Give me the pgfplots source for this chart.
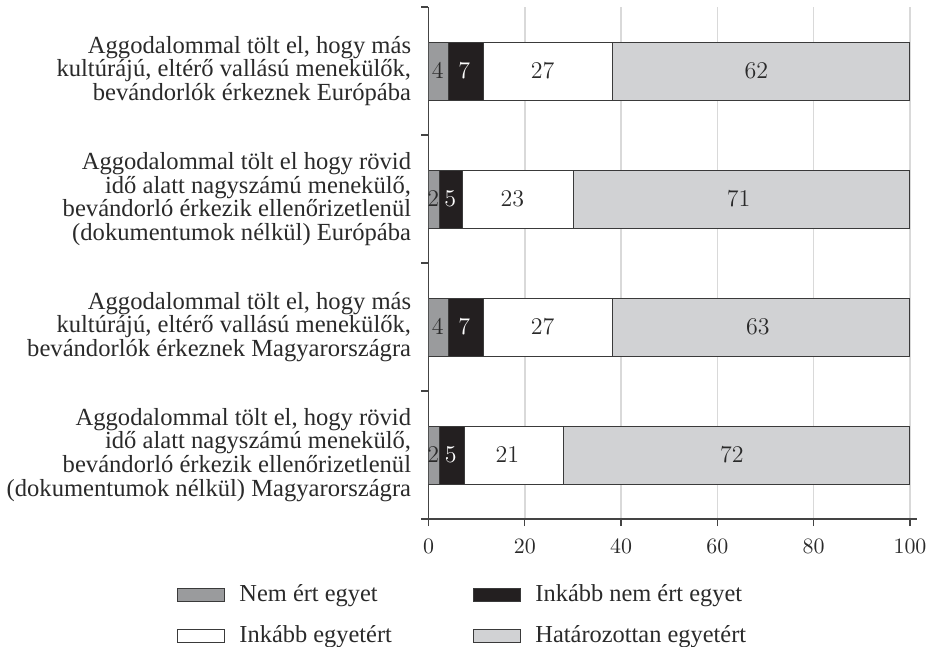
\documentclass[border=0pt]{standalone}
\usepackage[no-math]{fontspec}
\setmainfont{Liberation Serif}
\usepackage{pgfplots}
\pgfplotsset{compat=1.18}

\definecolor{nemert}{HTML}{9A9B9D}
\definecolor{inkabbnem}{HTML}{231F20}
\definecolor{hatarozottan}{HTML}{D1D2D4}
\definecolor{barline}{HTML}{3A3A3A}
\definecolor{axisline}{HTML}{444444}
\definecolor{gridc}{HTML}{D9D9D9}
\definecolor{numdark}{HTML}{2A2A2A}

% both axes share the same box: 1 px of the reference = 0.5pt
\pgfplotsset{
  common/.style={
    scale only axis, width=240.75pt, height=256pt,
    at={(0,0)}, anchor=south west,
    xmin=0, xmax=100, ymin=-0.5, ymax=3.5, y dir=reverse,
  },
}

\begin{document}
\begin{tikzpicture}
\useasboundingbox (-214.25pt,-64pt) rectangle (252.75pt,259.5pt);

\begin{axis}[
  common,
  xbar stacked, bar width=29pt,
  axis x line*=bottom, axis y line*=left,
  axis line style={-, draw=axisline, line width=0.7pt},
  x axis line style={shorten >=-3.5pt},
  tick align=outside, major tick length=3.5pt,
  tick style={draw=axisline, line width=0.7pt},
  xtick={0,20,...,100}, xtick pos=bottom,
  xticklabel style={font=\fontsize{11}{13}\selectfont, text=numdark, yshift=-3pt},
  ytick={-0.5,0.5,1.5,2.5,3.5}, yticklabel={\mbox{}}, ytick pos=left,
  extra y ticks={0,1,2,3},
  extra y tick labels={
    {Aggodalommal tölt el, hogy más\\kultúrájú, eltérő vallású menekülők,\\bevándorlók érkeznek Európába},
    {Aggodalommal tölt el hogy rövid\\idő alatt nagyszámú menekülő,\\bevándorló érkezik ellenőrizetlenül\\(dokumentumok nélkül) Európába},
    {Aggodalommal tölt el, hogy más\\kultúrájú, eltérő vallású menekülők,\\bevándorlók érkeznek Magyarországra},
    {Aggodalommal tölt el, hogy rövid\\idő alatt nagyszámú menekülő,\\bevándorló érkezik ellenőrizetlenül\\(dokumentumok nélkül) Magyarországra}},
  extra y tick style={major tick length=0pt,
    yticklabel style={font=\fontsize{12.3}{11.9}\selectfont, align=right,
      inner sep=0pt, xshift=-8.5pt, text=numdark}},
  xmajorgrids, grid style={draw=gridc, line width=0.75pt},
  legend columns=2,
  legend cell align=left,
  legend image code/.code={\draw[#1] (0pt,-3.25pt) rectangle (23.5pt,3.25pt);},
  legend style={at={(axis description cs:-0.5213,-0.126)}, anchor=north west,
    draw=none, fill=none, inner sep=0pt, outer sep=0pt,
    column sep=7pt, row sep=9.5pt,
    font=\fontsize{12.2}{14}\selectfont,
    nodes={inner sep=0pt, text height=8.8pt, text depth=2.5pt, text=numdark}},
]
\addplot[fill=nemert, draw=barline, line width=0.5pt]
  coordinates {(4.1,0) (2.2,1) (4.1,2) (2.2,3)};
\addlegendentry{\makebox[110pt][l]{Nem ért egyet}}
\addplot[fill=inkabbnem, draw=barline, line width=0.5pt]
  coordinates {(7.3,0) (4.9,1) (7.3,2) (5.2,3)};
\addlegendentry{Inkább nem ért egyet}
\addplot[fill=white, draw=barline, line width=0.5pt]
  coordinates {(26.9,0) (23.1,1) (26.9,2) (20.7,3)};
\addlegendentry{\makebox[110pt][l]{Inkább egyetért}}
\addplot[fill=hatarozottan, draw=barline, line width=0.5pt]
  coordinates {(61.7,0) (69.8,1) (61.7,2) (71.9,3)};
\addlegendentry{Határozottan egyetért}
\end{axis}

% printed shares, placed at the centre of each segment
\begin{axis}[common, hide axis, clip=false,
  every node near coord/.append style={anchor=center, inner sep=0pt,
    font=\fontsize{11.5}{13}\selectfont}]
\addplot[draw=none, mark=none, nodes near coords, point meta=explicit,
  every node near coord/.append style={text=numdark}]
  table[meta=v] {
x    y v
1.9  0 4
23.7 0 27
68.1 0 62
1.0  1 2
17.4 1 23
64.4 1 71
1.9  2 4
23.7 2 27
68.4 2 63
1.0  3 2
16.4 3 21
63.0 3 72
};
\addplot[draw=none, mark=none, nodes near coords, point meta=explicit,
  every node near coord/.append style={text=white}]
  table[meta=v] {
x   y v
7.4 0 7
4.5 1 5
7.4 2 7
4.6 3 5
};
\end{axis}
\end{tikzpicture}
\end{document}
